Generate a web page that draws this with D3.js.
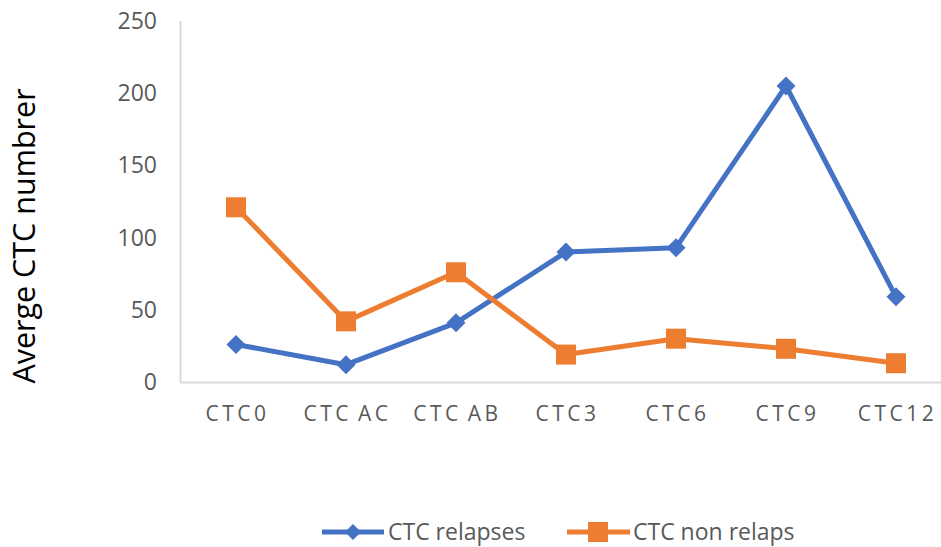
<!DOCTYPE html>
<html>
<head>
<meta charset="utf-8">
<script src="https://cdn.jsdelivr.net/npm/d3@7"></script>
<style>
  html, body { margin: 0; padding: 0; background: #fff; }
  svg { display: block; }
</style>
</head>
<body>
<svg id="chart" width="941" height="547"></svg>
<script>
// Average CTC counts per sampling point
const categories = ["CTC0", "CTC AC", "CTC AB", "CTC3", "CTC6", "CTC9", "CTC12"];
const relapses = [26, 12, 41, 90, 93, 205, 59];
const nonRelaps = [121, 42, 76, 19, 30, 23, 13];
const yTicks = [0, 50, 100, 150, 200, 250];
const seriesNames = ["CTC relapses", "CTC non relaps"];

const svg = d3.select("#chart");
const font = "'Open Sans', 'Noto Sans', sans-serif";
const blue = "#4472C4", orange = "#ED7D31";

const x = d3.scaleBand().domain(categories).range([181, 951]);
const y = d3.scaleLinear().domain([0, 250]).range([382, 21]);
const cx = d => x(d) + x.bandwidth() / 2;

// Axis lines
svg.append("line").attr("x1", 180.5).attr("x2", 180.5).attr("y1", 21).attr("y2", 382)
  .attr("stroke", "#d9d9d9").attr("stroke-width", 2);
svg.append("line").attr("x1", 180).attr("x2", 951).attr("y1", 382.5).attr("y2", 382.5)
  .attr("stroke", "#d9d9d9").attr("stroke-width", 2);

// Y tick labels
svg.append("g").selectAll("text").data(yTicks).join("text")
  .attr("x", 157).attr("y", d => y(d)).attr("dy", "0.35em")
  .attr("text-anchor", "end").attr("font-family", font).attr("font-size", 23)
  .attr("fill", "#595959").text(d => d);

// X tick labels
svg.append("g").selectAll("text").data(categories).join("text")
  .attr("x", d => cx(d) + 1.5).attr("y", 421)
  .attr("text-anchor", "middle").attr("font-family", font).attr("font-size", 21)
  .attr("letter-spacing", 3.5).attr("word-spacing", -3).attr("fill", "#595959").text(d => d);

// Y axis title
svg.append("text")
  .attr("transform", "translate(35,236) rotate(-90)")
  .attr("text-anchor", "middle").attr("font-family", font).attr("font-size", 30.5)
  .attr("fill", "#000").text("Averge CTC numbrer");

const line = d3.line().x((d, i) => cx(categories[i])).y(d => y(d));

function diamond(sel, s) {
  return sel.attr("d", `M0,${-s}L${s},0L0,${s}L${-s},0Z`);
}

// Relapses series
svg.append("path").datum(relapses).attr("d", line)
  .attr("fill", "none").attr("stroke", blue).attr("stroke-width", 5).attr("stroke-linejoin", "round");
svg.append("g").selectAll("path").data(relapses).join("path")
  .call(diamond, 9.5)
  .attr("transform", (d, i) => `translate(${cx(categories[i])},${y(d)})`)
  .attr("fill", blue);

// Non-relapse series
svg.append("path").datum(nonRelaps).attr("d", line)
  .attr("fill", "none").attr("stroke", orange).attr("stroke-width", 5).attr("stroke-linejoin", "round");
svg.append("g").selectAll("rect").data(nonRelaps).join("rect")
  .attr("x", (d, i) => cx(categories[i]) - 10).attr("y", d => y(d) - 10)
  .attr("width", 20).attr("height", 20).attr("fill", orange);

// Legend
const ly = 532;
const lg = svg.append("g");
lg.append("line").attr("x1", 322).attr("x2", 384).attr("y1", ly).attr("y2", ly)
  .attr("stroke", blue).attr("stroke-width", 5);
lg.append("path").call(diamond, 8).attr("transform", `translate(353,${ly})`).attr("fill", blue);
lg.append("text").attr("x", 388).attr("y", ly).attr("dy", "0.35em")
  .attr("font-family", font).attr("font-size", 23).attr("fill", "#595959").text(seriesNames[0]);
lg.append("line").attr("x1", 567).attr("x2", 630).attr("y1", ly).attr("y2", ly)
  .attr("stroke", orange).attr("stroke-width", 5);
lg.append("rect").attr("x", 588).attr("y", ly - 10).attr("width", 20).attr("height", 20).attr("fill", orange);
lg.append("text").attr("x", 633).attr("y", ly).attr("dy", "0.35em")
  .attr("font-family", font).attr("font-size", 23).attr("fill", "#595959").text(seriesNames[1]);
</script>
</body>
</html>
